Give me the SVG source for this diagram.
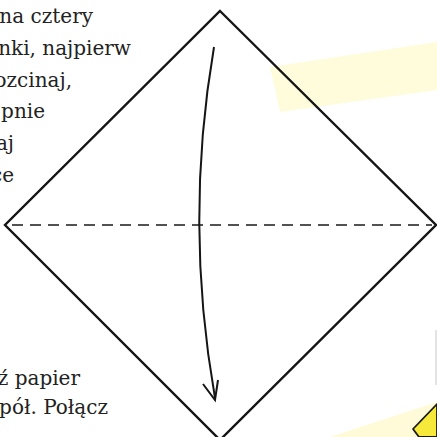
<svg xmlns="http://www.w3.org/2000/svg" width="437" height="437" viewBox="0 0 437 437">
<style>
.txt{font-family:"DejaVu Serif","Liberation Serif",serif;font-size:20px;fill:#222222;text-anchor:end}
.edge{fill:none;stroke:#151515;stroke-width:2.4;stroke-linejoin:miter}
</style>
<rect width="437" height="437" fill="#ffffff"/>
<g id="background">
<polygon points="270,67 437,42 437,90 280,112" fill="#fffcdc"/>
<polygon points="330,437 437,402 437,437" fill="#fffbd8"/>
<line x1="436" y1="330" x2="436" y2="385" stroke="#c8c8c8" stroke-width="1"/>
<polygon points="413,429 437,404 437,437 419,437" fill="#f7e93a" stroke="#1a1a1a" stroke-width="1.8" stroke-linejoin="round"/>
</g>
<g id="paper">
<polygon class="edge" points="220,11 436,225 220,440 5,225" fill="#ffffff"/>
<line x1="12" y1="225" x2="432" y2="225" stroke="#1a1a1a" stroke-width="1.6" stroke-dasharray="11 7"/>
</g>
<g id="connectors">
<path d="M214,47 Q184,222 215,398" fill="none" stroke="#151515" stroke-width="2"/>
<polyline points="203,384 215,400 218,380" fill="none" stroke="#151515" stroke-width="2" stroke-linejoin="miter"/>
</g>
<g id="text-top">
<text class="txt" x="93" y="23">na cztery</text>
<text class="txt" x="131" y="55">nki, najpierw</text>
<text class="txt" x="72" y="87">ozcinaj,</text>
<text class="txt" x="45" y="118">pnie</text>
<text class="txt" x="14" y="150">aj</text>
<text class="txt" x="14" y="182">ce</text>
</g>
<g id="text-bottom">
<text class="txt" x="80" y="385">ź papier</text>
<text class="txt" x="108" y="414">pół. Połącz</text>
</g>
</svg>
